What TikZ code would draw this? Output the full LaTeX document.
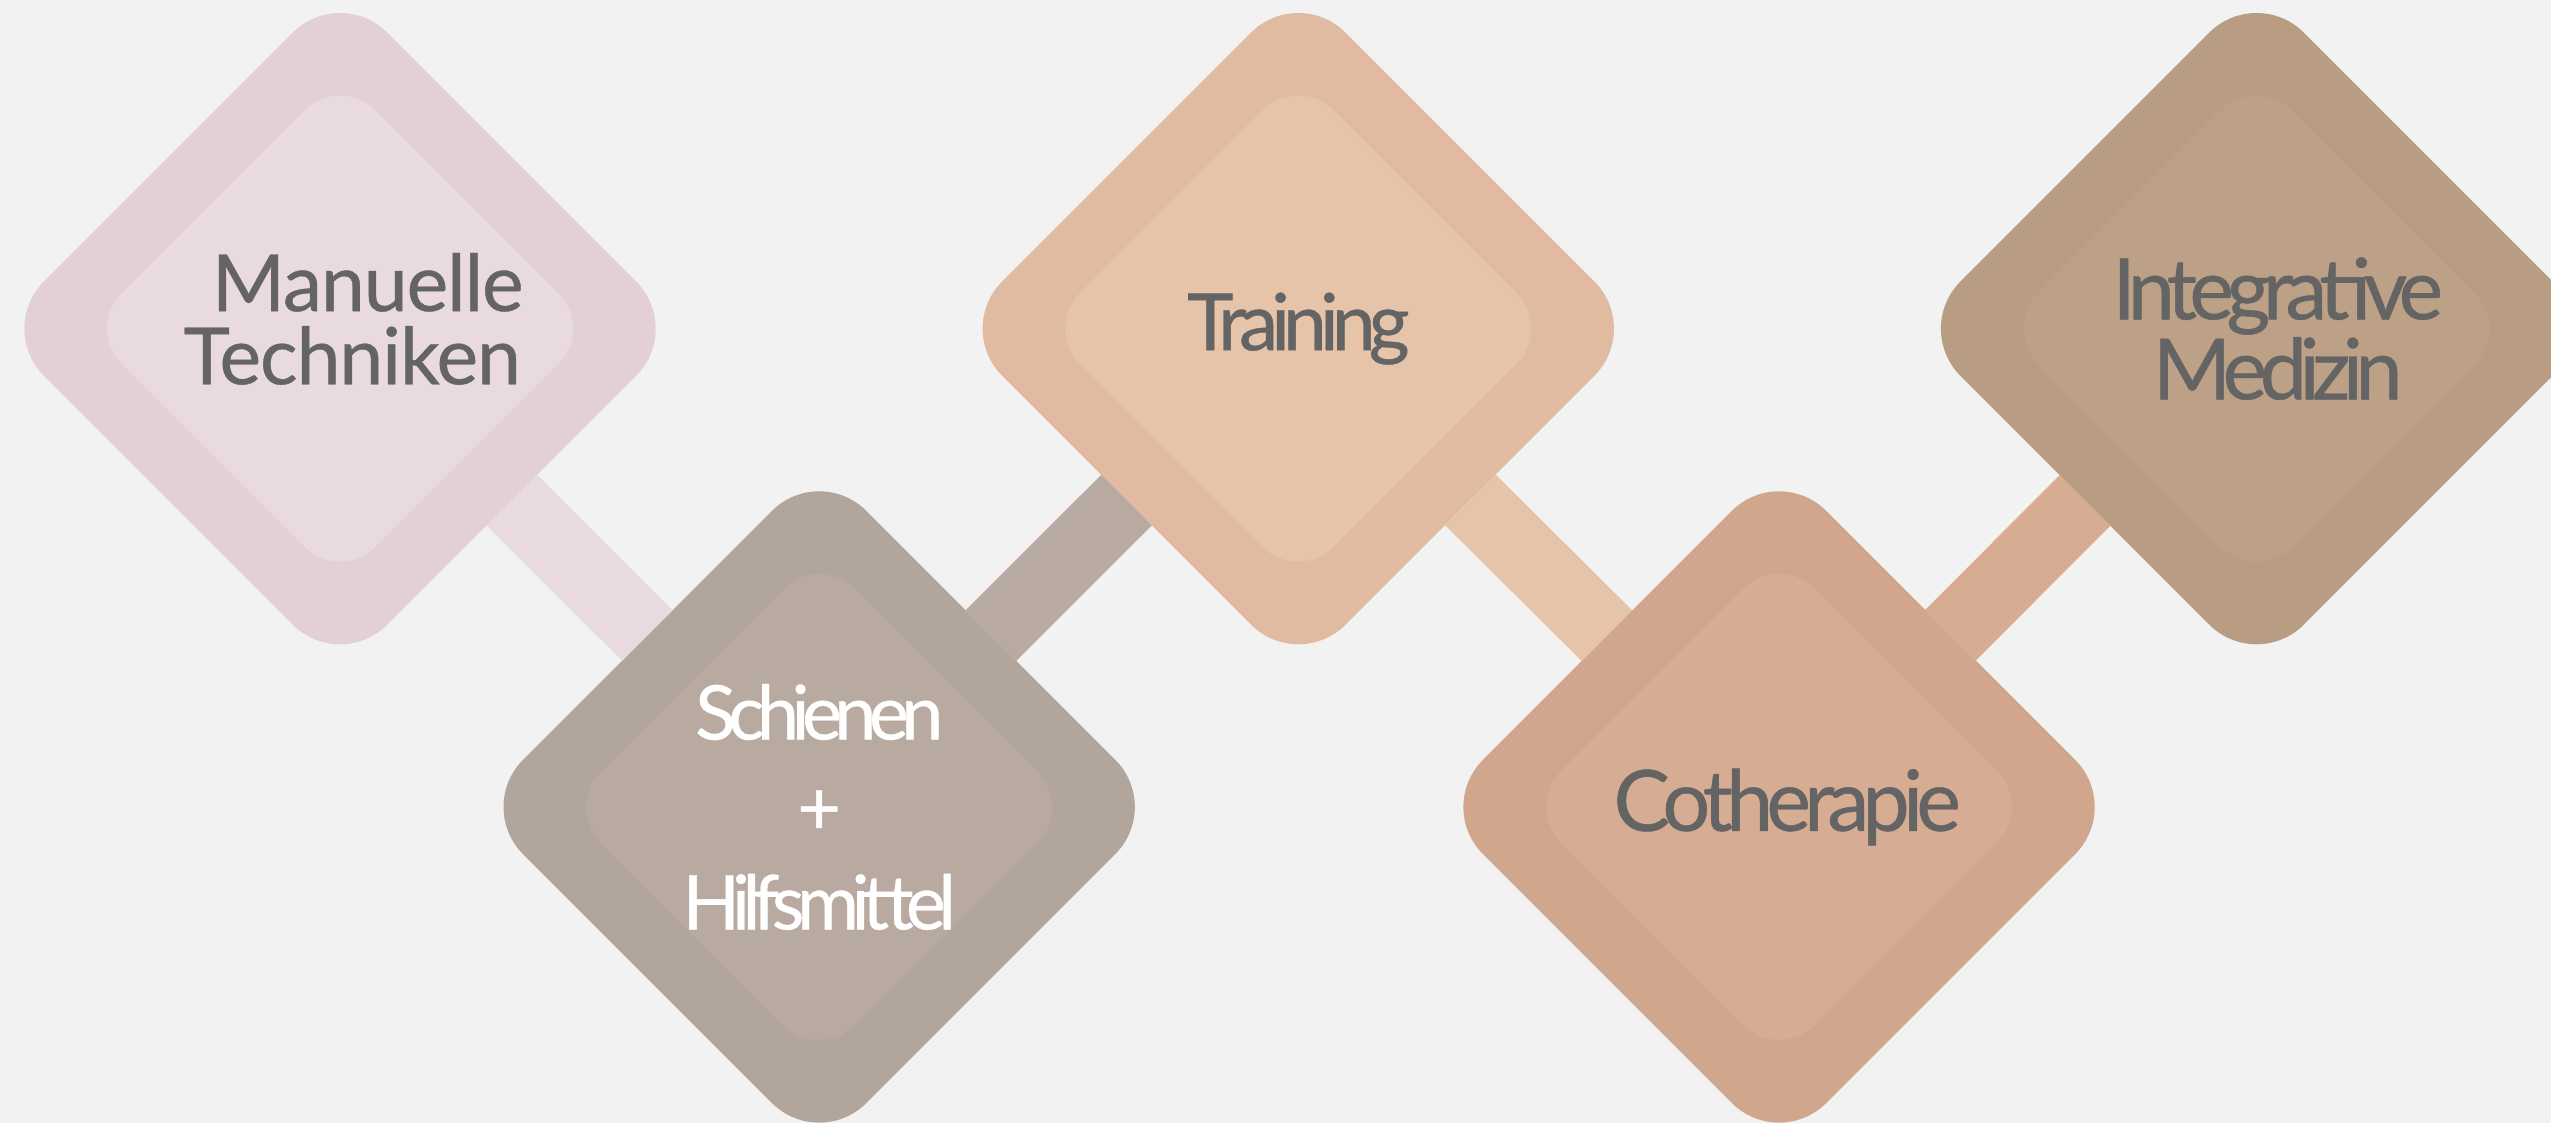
\documentclass[tikz,border=0pt]{standalone}
\usepackage{fontspec}
\setmainfont{Lato}[FakeBold=0.5]
\usetikzlibrary{shapes.geometric}
\definecolor{bggray}{HTML}{F2F2F2}
\definecolor{textgray}{HTML}{646464}
\definecolor{manOuter}{HTML}{E3D0D5}
\definecolor{manInner}{HTML}{E8DADF}
\definecolor{schOuter}{HTML}{B1A59C}
\definecolor{schInner}{HTML}{B8AAA1}
\definecolor{traOuter}{HTML}{E1BBA1}
\definecolor{traInner}{HTML}{E6C4AA}
\definecolor{cotOuter}{HTML}{D0A68D}
\definecolor{cotInner}{HTML}{D6AC93}
\definecolor{intOuter}{HTML}{B89D83}
\definecolor{intInner}{HTML}{BDA187}
\begin{document}
\begin{tikzpicture}[
        outer/.style={diamond, minimum size=4.22cm, inner sep=0pt, outer sep=0pt, rounded corners=4.1mm},
        inner/.style={diamond, minimum size=3.12cm, inner sep=0pt, outer sep=0pt, rounded corners=3.1mm},
        txt/.style={text=textgray, align=center},
        bar/.style={line width=4.4mm}
    ]
    \fill[bggray] (0,0) rectangle (15.68,-6.90);
    \useasboundingbox (0,0) rectangle (15.68,-6.90);

    \node[outer, fill=manOuter] (manuell) at (2.09,-2.02) {};
    \node[inner, fill=manInner] (manuell-in) at (manuell) {};
    \node[txt, xshift=1.7mm, yshift=0.6mm, font={\fontsize{13.8}{12.8}\selectfont\addfontfeatures{LetterSpace=-1.5}}] (manuell-t) at (manuell) {Manuelle\\Techniken\hspace*{1.9mm}};

    \node[outer, fill=schOuter] (schienen) at (5.035,-4.96) {};
    \node[inner, fill=schInner] (schienen-in) at (schienen) {};
    \node[txt, text=white, font={\fontsize{13.2}{16.6}\selectfont\addfontfeatures{LetterSpace=-10}}] (schienen-t) at (schienen) {Schienen\\+\\Hilfsmittel};

    \node[outer, fill=traOuter] (training) at (7.98,-2.02) {};
    \node[inner, fill=traInner] (training-in) at (training) {};
    \node[txt, font={\fontsize{13.8}{12.8}\selectfont\addfontfeatures{LetterSpace=-9}}] (training-t) at (training) {Training};

    \node[outer, fill=cotOuter] (cothera) at (10.935,-4.96) {};
    \node[inner, fill=cotInner] (cothera-in) at (cothera) {};
    \node[txt, xshift=0.5mm, font={\fontsize{14.8}{14.5}\selectfont\addfontfeatures{LetterSpace=-8.2}}] (cothera-t) at (cothera) {Cotherapie};

    \node[outer, fill=intOuter] (integr) at (13.87,-2.02) {};
    \node[inner, fill=intInner] (integr-in) at (integr) {};
    \node[txt, xshift=1.3mm, font={\fontsize{14.8}{14}\selectfont\addfontfeatures{LetterSpace=-9}}] (integr-t) at (integr) {Integrative\\Medizin};

    % verbindende Balken
    \draw[bar, manInner] (manuell) -- (schienen);
    \draw[bar, schInner] (schienen) -- (training);
    \draw[bar, traInner] (training) -- (cothera);
    \draw[bar, cotInner] (cothera) -- (integr);
\end{tikzpicture}
\end{document}
